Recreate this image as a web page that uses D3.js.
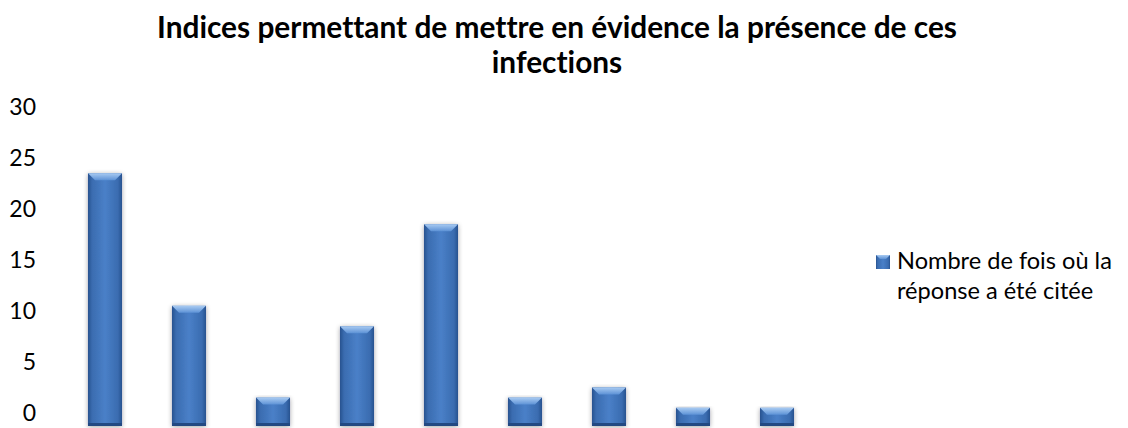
<!DOCTYPE html>
<html lang="fr">
<head>
<meta charset="UTF-8">
<title>indices-bar</title>
<script src="https://cdn.jsdelivr.net/npm/d3@7/dist/d3.min.js"></script>
<style>
    body { margin: 0; background: #fff; }
    svg text { font-family: Lato, "Open Sans", sans-serif; fill: #000; font-variant-ligatures: none; }
</style>
</head>
<body>
<svg class="chart"></svg>
<script>
    // data (category names are cut off in the reference)
    var categories = ['1', '2', '3', '4', '5', '6', '7', '8', '9'];
    var values = [24, 11, 2, 9, 19, 2, 3, 1, 1];
    var yTicks = [0, 5, 10, 15, 20, 25, 30];
    var titleLines = ['Indices permettant de mettre en évidence la présence de ces', 'infections'];
    var legendLines = ['Nombre de fois où la', 'réponse a été citée'];

    var width = 1128, height = 428;
    var svg = d3.select('.chart').attr('width', width).attr('height', height);

    var x = d3.scaleBand().domain(categories).range([63, 819])
        .paddingInner(0.595).paddingOuter(0.2975);
    var y = d3.scaleLinear().domain([0, 30]).range([418, 112]);

    // gradients for the bevelled bars
    var defs = svg.append('defs');
    var bodyGrad = defs.append('linearGradient').attr('id', 'barBody')
        .attr('x1', 0).attr('x2', 1).attr('y1', 0).attr('y2', 0);
    bodyGrad.append('stop').attr('offset', '0%').attr('stop-color', '#28528f');
    bodyGrad.append('stop').attr('offset', '12%').attr('stop-color', '#3a6cb0');
    bodyGrad.append('stop').attr('offset', '50%').attr('stop-color', '#4a80c8');
    bodyGrad.append('stop').attr('offset', '88%').attr('stop-color', '#3a6cb0');
    bodyGrad.append('stop').attr('offset', '100%').attr('stop-color', '#28528f');
    var topGrad = defs.append('linearGradient').attr('id', 'barTop')
        .attr('x1', 0).attr('x2', 0).attr('y1', 0).attr('y2', 1);
    topGrad.append('stop').attr('offset', '0%').attr('stop-color', '#a9cbf2');
    topGrad.append('stop').attr('offset', '100%').attr('stop-color', '#5d92d6');
    var shadow = defs.append('filter').attr('id', 'shadow')
        .attr('x', '-30%').attr('y', '-10%').attr('width', '160%').attr('height', '130%');
    shadow.append('feGaussianBlur').attr('in', 'SourceAlpha').attr('stdDeviation', 2.5);
    shadow.append('feOffset').attr('dx', 0).attr('dy', 1).attr('result', 'b');
    shadow.append('feComponentTransfer').append('feFuncA').attr('type', 'linear').attr('slope', 0.35);
    var merge = shadow.append('feMerge');
    merge.append('feMergeNode');
    merge.append('feMergeNode').attr('in', 'SourceGraphic');

    // title
    var title = svg.append('g').attr('class', 'title');
    title.selectAll('text').data(titleLines).enter().append('text')
        .attr('x', 557)
        .attr('y', function (d, i) { return 38 + i * 35; })
        .attr('text-anchor', 'middle')
        .style('font-weight', 'bold')
        .style('font-size', '28px')
        .text(function (d) { return d; });
    // fit title width to the reference (~800px)
    var tw = title.select('text').node().getComputedTextLength();
    title.selectAll('text').style('font-size', (28 * 800 / tw) + 'px');

    // y axis labels only
    svg.append('g').selectAll('text').data(yTicks).enter().append('text')
        .attr('x', 36)
        .attr('y', function (d) { return y(d); })
        .attr('dy', '0.15em')
        .attr('text-anchor', 'end')
        .style('font-size', '23px')
        .text(function (d) { return d; });

    // bars
    var bars = svg.append('g').selectAll('g').data(values).enter().append('g')
        .attr('transform', function (d, i) { return 'translate(' + x(categories[i]) + ',0)'; })
        .attr('filter', 'url(#shadow)');
    var bw = x.bandwidth();
    var base = 8; // bevel base below the axis
    bars.append('rect')
        .attr('x', 0)
        .attr('y', function (d) { return y(d); })
        .attr('width', bw)
        .attr('height', function (d) { return y(0) - y(d) + base; })
        .attr('fill', 'url(#barBody)');
    bars.append('path')
        .attr('d', function (d) {
            var t = y(d), b = Math.min(7, (y(0) - y(d)) / 2 + 2);
            return 'M0,' + t + 'L' + bw + ',' + t + 'L' + (bw - 7) + ',' + (t + b) + 'L7,' + (t + b) + 'Z';
        })
        .attr('fill', 'url(#barTop)');
    bars.append('rect')
        .attr('x', 0)
        .attr('y', y(0) + base - 3)
        .attr('width', bw)
        .attr('height', 3)
        .attr('fill', '#234a82');

    // legend
    var legend = svg.append('g').attr('class', 'legend');
    legend.append('rect')
        .attr('x', 876).attr('y', 255).attr('width', 14).attr('height', 14)
        .attr('fill', 'url(#barBody)');
    legend.append('path')
        .attr('d', 'M876,255L890,255L886,259L880,259Z')
        .attr('fill', 'url(#barTop)');
    legend.selectAll('text').data(legendLines).enter().append('text')
        .attr('x', 897)
        .attr('y', function (d, i) { return 269 + i * 30; })
        .style('font-size', '23px')
        .text(function (d) { return d; });
    var lw = legend.select('text').node().getComputedTextLength();
    legend.selectAll('text').style('font-size', Math.min(26, 23 * 215 / lw) + 'px');
</script>
</body>
</html>
